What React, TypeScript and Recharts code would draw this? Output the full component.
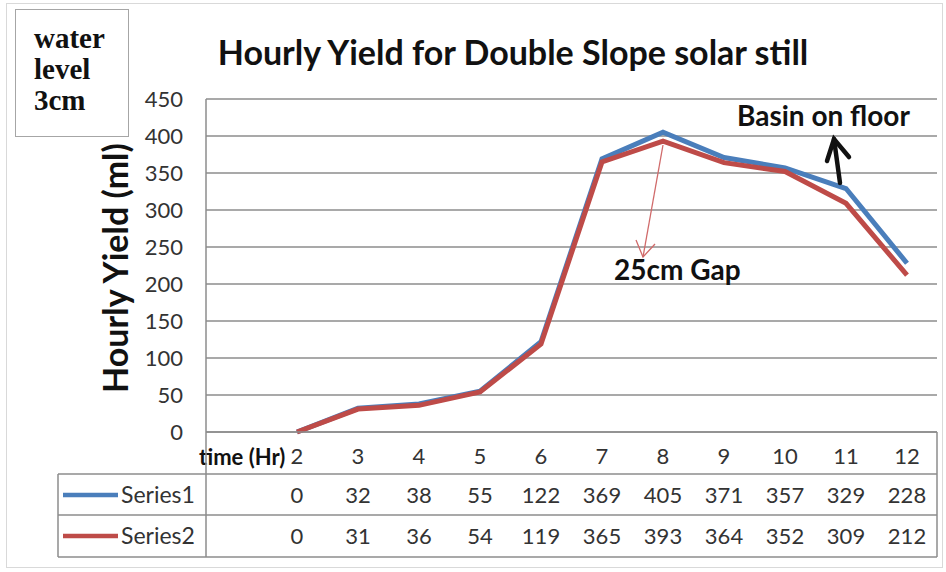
import React from "react";
import { LineChart, Line, XAxis, YAxis, CartesianGrid } from "recharts";

const hours = ["2", "3", "4", "5", "6", "7", "8", "9", "10", "11", "12"];
const series1 = [0, 32, 38, 55, 122, 369, 405, 371, 357, 329, 228];
const series2 = [0, 31, 36, 54, 119, 365, 393, 364, 352, 309, 212];
const yTicks = [0, 50, 100, 150, 200, 250, 300, 350, 400, 450];

const BLUE = "#4a7ebb";
const RED = "#be4b48";
const GRID = "#8c8c8c";
const FONT = "Lato, 'Open Sans', sans-serif";

// first category is the table header cell "time (Hr)", it has no values
const data = [
  { hour: "time (Hr)", s1: null, s2: null },
  ...hours.map((h, i) => ({ hour: h, s1: series1[i], s2: series2[i] })),
];

// x axis tick draws the data table column under each category
function TableTick(props: any) {
  const { x, y, index } = props;
  if (index === 0) {
    return (
      <text x={x - 37} y={y + 33} fontFamily={FONT} fontWeight={700} fontSize={22} fill="#111">
        time (Hr)
      </text>
    );
  }
  return (
    <g fontFamily={FONT} fontSize={22} fill="#333" textAnchor="middle">
      <text x={x} y={y + 32}>{hours[index - 1]}</text>
      <text x={x} y={y + 71}>{series1[index - 1]}</text>
      <text x={x} y={y + 112}>{series2[index - 1]}</text>
    </g>
  );
}

export default function App() {
  return (
    <div style={{ position: "relative", width: 946, height: 572, background: "#fff" }}>
      <style>{`body{margin:0}`}</style>
      <LineChart
        width={946}
        height={572}
        data={data}
        margin={{ top: 99, right: 9, bottom: 15, left: 146 }}
      >
        <CartesianGrid vertical={false} stroke={GRID} strokeWidth={1.5} />
        <XAxis
          dataKey="hour"
          interval={0}
          height={125}
          padding={{ left: 30, right: 30 }}
          tickLine={false}
          tickSize={0}
          tickMargin={0}
          axisLine={{ stroke: GRID, strokeWidth: 1.5 }}
          tick={<TableTick />}
        />
        <YAxis
          width={60}
          domain={[0, 450]}
          ticks={yTicks}
          interval={0}
          tickLine={false}
          tickMargin={17}
          axisLine={{ stroke: GRID, strokeWidth: 1.5 }}
          tick={{ fontFamily: FONT, fontSize: 22, fill: "#333" }}
        />
        <Line type="linear" dataKey="s1" stroke={BLUE} strokeWidth={5} dot={false} isAnimationActive={false} />
        <Line type="linear" dataKey="s2" stroke={RED} strokeWidth={5} dot={false} isAnimationActive={false} />
      </LineChart>

      <svg
        width={946}
        height={572}
        style={{ position: "absolute", left: 0, top: 0, pointerEvents: "none" }}
      >
        <rect x={6.5} y={3.5} width={936} height={564} fill="none" stroke="#d9d9d9" />

        {/* text box */}
        <rect x={15.5} y={9.5} width={113} height={127} fill="#fff" stroke="#a6a6a6" />
        <g fontFamily="'Liberation Serif', serif" fontWeight={700} fontSize={29} fill="#111">
          <text x={34} y={48}>water</text>
          <text x={34} y={79}>level</text>
          <text x={34} y={110}>3cm</text>
        </g>

        <text x={513} y={65} textAnchor="middle" fontFamily={FONT} fontWeight={700} fontSize={34} fill="#111">
          Hourly Yield for Double Slope solar still
        </text>
        <text
          transform="translate(128 268) rotate(-90)"
          textAnchor="middle"
          fontFamily={FONT}
          fontWeight={700}
          fontSize={34}
          fill="#111"
        >
          Hourly Yield (ml)
        </text>

        {/* data table frame */}
        <g stroke={GRID} strokeWidth={1.5} fill="none">
          <line x1={206} y1={432} x2={206} y2={557} />
          <line x1={937} y1={432} x2={937} y2={557} />
          <line x1={58} y1={474} x2={58} y2={557} />
          <line x1={58} y1={474} x2={937} y2={474} />
          <line x1={58} y1={515} x2={937} y2={515} />
          <line x1={58} y1={557} x2={937} y2={557} />
        </g>
        <line x1={63} y1={495} x2={118} y2={495} stroke={BLUE} strokeWidth={4.5} />
        <line x1={63} y1={536} x2={118} y2={536} stroke={RED} strokeWidth={4.5} />
        <g fontFamily={FONT} fontSize={23} fill="#333">
          <text x={121} y={503}>Series1</text>
          <text x={121} y={544}>Series2</text>
        </g>

        {/* annotations */}
        <text x={737} y={126} fontFamily={FONT} fontWeight={700} fontSize={28} fill="#111">
          Basin on floor
        </text>
        <g stroke="#111" strokeWidth={4.5} fill="none" strokeLinecap="round">
          <line x1={840} y1={183} x2={834} y2={139} />
          <polyline points="827,161 834,139 849,157" />
        </g>
        <text x={614} y={280} fontFamily={FONT} fontWeight={700} fontSize={28} fill="#111">
          25cm Gap
        </text>
        <g stroke="#d06a6a" strokeWidth={1.3} fill="none">
          <line x1={663} y1={145} x2={643} y2={257} />
          <polyline points="636,240 643,257 655,244" />
        </g>
      </svg>
    </div>
  );
}
